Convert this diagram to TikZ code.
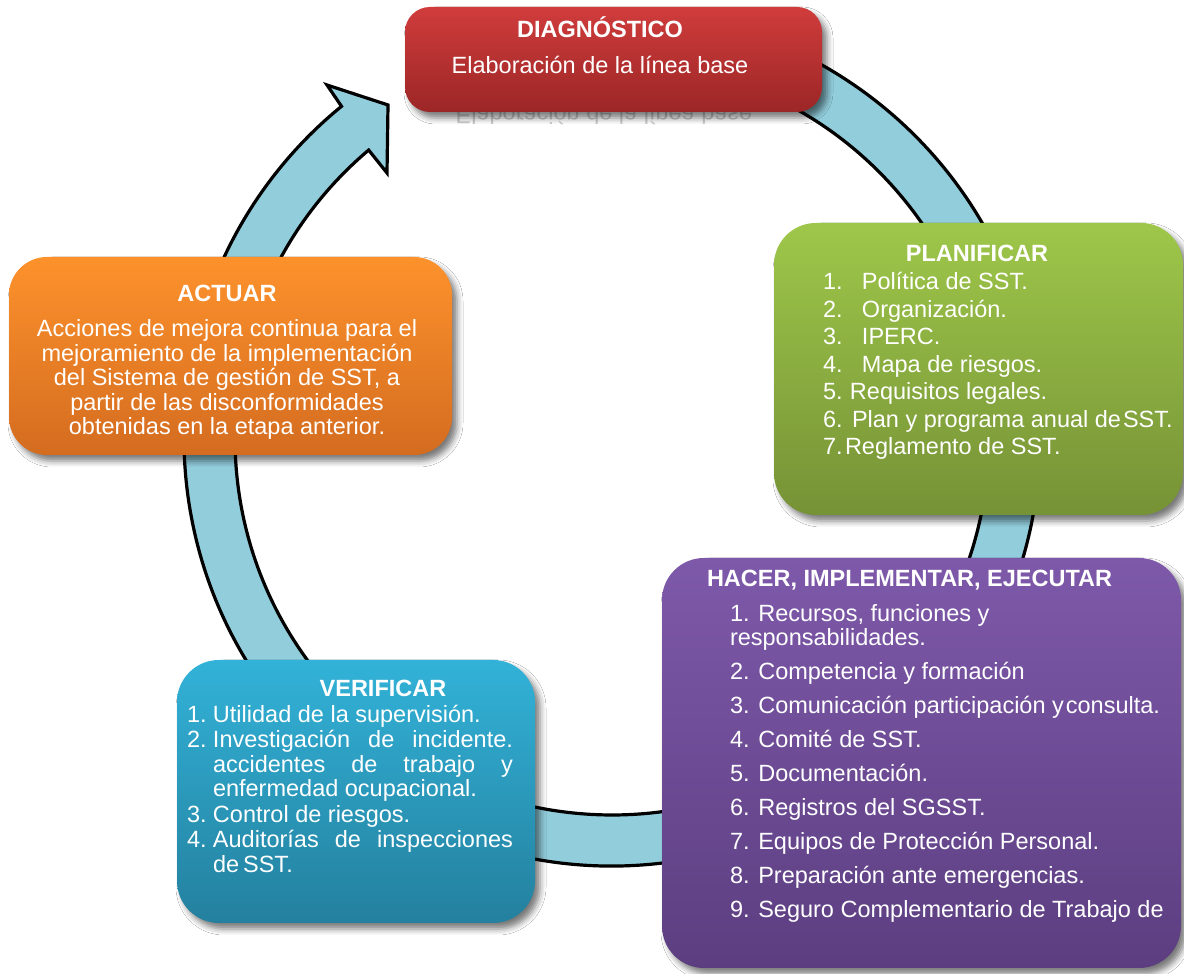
\documentclass[tikz,border=0pt]{standalone}
\usepackage{fontspec}
\setmainfont{Liberation Sans}
\usetikzlibrary{shadows.blur,calc}
\definecolor{ringblue}{RGB}{146,205,220}
\definecolor{diagtop}{RGB}{208,60,60}
\definecolor{diagbot}{RGB}{156,38,38}
\definecolor{acttop}{RGB}{253,146,44}
\definecolor{actbot}{RGB}{212,108,32}
\definecolor{plantop}{RGB}{158,199,74}
\definecolor{planbot}{RGB}{118,146,54}
\definecolor{vertop}{RGB}{50,178,216}
\definecolor{verbot}{RGB}{36,128,158}
\definecolor{hactop}{RGB}{126,89,170}
\definecolor{hacbot}{RGB}{92,62,128}
\begin{document}
\begin{tikzpicture}[x=1pt,y=1pt,
  ring/.style={fill=ringblue, draw=black, line width=3.2pt, line join=miter},
  box/.style={rounded corners=#1, inner sep=0pt, outer sep=0pt, draw=none,
    blur shadow={shadow xshift=5pt, shadow yshift=-6pt, shadow blur radius=6pt, shadow opacity=52}},
  txt/.style={text=white, inner sep=0pt, outer sep=0pt, font=\fontsize{23.5}{28}\selectfont},
  ttl/.style={text=white, inner sep=0pt, outer sep=0pt, font=\fontsize{23.5}{28}\selectfont\bfseries},
  refl/.style={text=black!20, inner sep=0pt, font=\fontsize{23.5}{28}\selectfont, yscale=-1}
]
\useasboundingbox (0,0) rectangle (1184,974);
\fill[white] (0,0) rectangle (1184,974);

% ring arrow
\coordinate (C) at (612,536);
\coordinate (bo) at (327,889);
\coordinate (tip) at (388,869);
\coordinate (bi) at (387,801);
\path[ring] ([shift={(100:428)}]C) arc[start angle=100, end angle=-230.8, radius=428]
  -- (bo) -- (tip) -- (bi)
  -- ([shift={(-229.8:377)}]C) arc[start angle=-229.8, end angle=100, radius=377] -- cycle;

% reflection under the diagnostic box
\node[refl, anchor=base] (refl) at (604,866) {Elaboración de la línea base};

% boxes
\node[box=25pt, top color=diagtop, bottom color=diagbot, minimum width=417pt, minimum height=105pt, anchor=south west] (diag) at (405,862) {};
\node[box=38pt, top color=acttop, bottom color=actbot, minimum width=443pt, minimum height=198pt, anchor=south west] (act) at (9,519) {};
\node[box=42pt, top color=plantop, bottom color=planbot, minimum width=409pt, minimum height=292pt, anchor=south west] (plan) at (774,459) {};
\node[box=42pt, top color=hactop, bottom color=hacbot, minimum width=519pt, minimum height=410pt, anchor=south west] (hac) at (662,6) {};
\node[box=42pt, top color=vertop, bottom color=verbot, minimum width=358pt, minimum height=263pt, anchor=south west] (ver) at (177,51) {};

% DIAGNOSTICO
\node[ttl, anchor=base] (d0) at (600,936) {DIAGNÓSTICO};
\node[txt, anchor=base] (d1) at (600,900) {Elaboración de la línea base};

% ACTUAR
\node[ttl, anchor=base] (a0) at (227,672) {ACTUAR};
\node[txt, anchor=base] (a1) at (227,637) {Acciones de mejora continua para el};
\node[txt, anchor=base] (a2) at (227,612.5) {mejoramiento de la implementación};
\node[txt, anchor=base] (a3) at (227,588) {del Sistema de gestión de SST, a};
\node[txt, anchor=base] (a4) at (227,563.5) {partir de las disconformidades};
\node[txt, anchor=base] (a5) at (227,539) {obtenidas en la etapa anterior.};

% PLANIFICAR
\node[ttl, anchor=base] (p0) at (977,712) {PLANIFICAR};
\node[txt, anchor=base west] (p1) at (823,684) {\makebox[39pt][l]{1.}Política de SST.};
\node[txt, anchor=base west] (p2) at (823,656) {\makebox[39pt][l]{2.}Organización.};
\node[txt, anchor=base west] (p3) at (823,629) {\makebox[39pt][l]{3.}IPERC.};
\node[txt, anchor=base west] (p4) at (823,601) {\makebox[39pt][l]{4.}Mapa de riesgos.};
\node[txt, anchor=base west] (p5) at (823,574) {\makebox[27pt][l]{5.}Requisitos legales.};
\node[txt, anchor=base west] (p6) at (823,546) {\makebox[29pt][l]{6.}Plan y programa anual de\kern2pt SST.};
\node[txt, anchor=base west] (p7) at (823,519) {\makebox[22pt][l]{7.}Reglamento de SST.};

% HACER
\node[ttl, anchor=base west] (h0) at (707,387) {HACER, IMPLEMENTAR, EJECUTAR};
\node[txt, anchor=base west] (h1) at (730,352) {1. Recursos, funciones y};
\node[txt, anchor=base west] (h1b) at (730,328) {responsabilidades.};
\node[txt, anchor=base west] (h2) at (730,294) {2. Competencia y formación};
\node[txt, anchor=base west] (h3) at (730,260) {3. Comunicación participación y\kern2pt consulta.};
\node[txt, anchor=base west] (h4) at (730,226) {4. Comité de SST.};
\node[txt, anchor=base west] (h5) at (730,192) {5. Documentación.};
\node[txt, anchor=base west] (h6) at (730,158) {6. Registros del SGSST.};
\node[txt, anchor=base west] (h7) at (730,124) {7. Equipos de Protección Personal.};
\node[txt, anchor=base west] (h8) at (730,90) {8. Preparación ante emergencias.};
\node[txt, anchor=base west] (h9) at (730,56) {9. Seguro Complementario de Trabajo de};

% VERIFICAR
\node[ttl, anchor=base] (v0) at (383,277) {VERIFICAR};
\node[txt, anchor=base west] (v1) at (187,251) {\makebox[26pt][l]{1.}Utilidad de la supervisión.};
\node[txt, anchor=base west] (v2) at (187,226) {\makebox[26pt][l]{2.}\hbox to 300pt{Investigación\hfill de\hfill incidente.}};
\node[txt, anchor=base west] (v2b) at (213,201) {\hbox to 300pt{accidentes\hfill de\hfill trabajo\hfill y}};
\node[txt, anchor=base west] (v2c) at (213,177) {enfermedad ocupacional.};
\node[txt, anchor=base west] (v3) at (187,151) {\makebox[26pt][l]{3.}Control de riesgos.};
\node[txt, anchor=base west] (v4) at (187,126) {\makebox[26pt][l]{4.}\hbox to 300pt{Auditorías\hfill de\hfill inspecciones}};
\node[txt, anchor=base west] (v4b) at (213,101) {de\kern4pt SST.};
\end{tikzpicture}
\end{document}
